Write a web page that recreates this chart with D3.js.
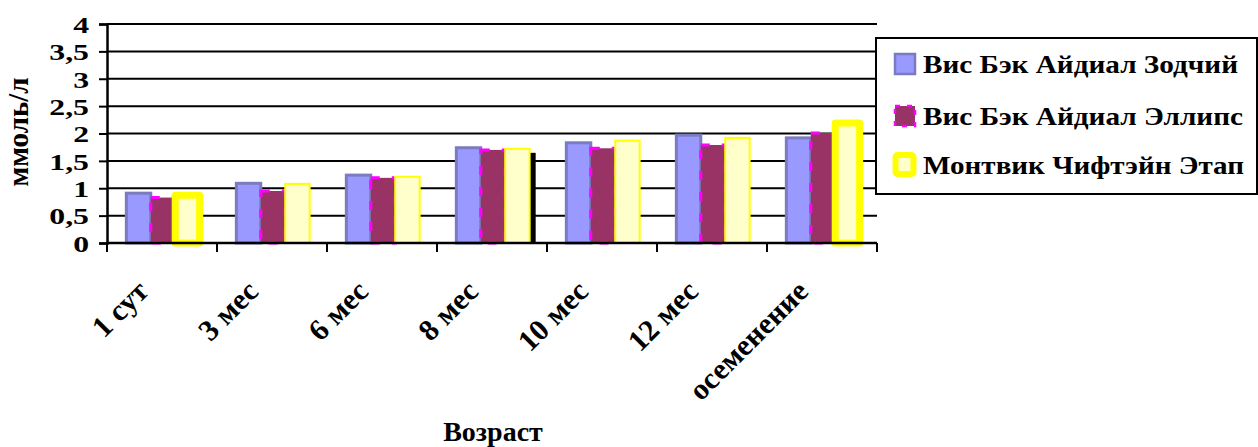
<!DOCTYPE html>
<html>
<head>
<meta charset="utf-8">
<script src="https://cdn.jsdelivr.net/npm/d3@7"></script>
<style>
  html, body { margin: 0; padding: 0; background: #fff; }
  svg { display: block; }
</style>
</head>
<body>
<svg id="chart" width="1258" height="447"></svg>
<script>
// Age points on the x axis
const categories = ["1 сут", "3 мес", "6 мес", "8 мес", "10 мес", "12 мес", "осеменение"];

// Series names
const seriesNames = ["Вис Бэк Айдиал Зодчий", "Вис Бэк Айдиал Эллипс", "Монтвик Чифтэйн Этап"];

// Values per series, ммоль/л
const zodchiy = [0.91, 1.09, 1.24, 1.74, 1.83, 1.97, 1.92];
const ellips  = [0.83, 0.95, 1.19, 1.70, 1.73, 1.79, 2.01];
const etap    = [0.87, 1.08, 1.21, 1.72, 1.87, 1.92, 2.19];

// Y axis ticks
const yTicks = [0, 0.5, 1, 1.5, 2, 2.5, 3, 3.5, 4];
const yTickLabels = ["0", "0,5", "1", "1,5", "2", "2,5", "3", "3,5", "4"];

// Points drawn with a heavy outline, and the one with a drop shadow
const heavyPoints = ["1 сут", "осеменение"];
const shadowPoints = ["8 мес"];

const svg = d3.select("#chart");
const margin = { left: 107, right: 381, top: 24, bottom: 204 };
const W = 1258, H = 447;
const plotW = W - margin.left - margin.right;
const plotH = H - margin.top - margin.bottom;

const x = d3.scaleBand().domain(categories).range([margin.left, margin.left + plotW]).paddingInner(0).paddingOuter(0);
const barW = x.bandwidth() / 4.5;
const xs = d3.scaleBand().domain(d3.range(3)).range([0, barW * 3]);
const y = d3.scaleLinear().domain([0, 4]).range([margin.top + plotH, margin.top]);

function boldText(sel, size) {
  return sel.attr("font-family", "Liberation Serif").attr("font-weight", "bold")
    .attr("font-size", size).attr("fill", "#000");
}

// Grid lines
svg.append("g")
  .selectAll("line")
  .data(yTicks.filter(d => d > 0))
  .join("line")
  .attr("x1", margin.left).attr("x2", margin.left + plotW)
  .attr("y1", d => y(d)).attr("y2", d => y(d))
  .attr("stroke", "#000").attr("stroke-width", 2);

const series = [
  { name: seriesNames[0], values: zodchiy, fill: "#9999FF", stroke: "#7B7BC0", sw: 3, dash: null, width: 315 },
  { name: seriesNames[1], values: ellips,  fill: "#993366", stroke: "#FF00FF", sw: 3, dash: "9,12", width: 320 },
  { name: seriesNames[2], values: etap,    fill: "#FFFFCC", stroke: "#FFFF00", sw: 2, dash: null, width: 321 }
];

const groupOffset = (x.bandwidth() - barW * 3) / 2 + 1;

// Drop shadow behind selected yellow bars
svg.append("g")
  .selectAll("rect")
  .data(categories.map((c, i) => ({ c, v: etap[i] })).filter(d => shadowPoints.includes(d.c)))
  .join("rect")
  .attr("x", d => x(d.c) + groupOffset + xs(2) + 6)
  .attr("y", d => y(d.v) + 4)
  .attr("width", barW)
  .attr("height", d => y(0) - y(d.v) - 4)
  .attr("fill", "#000");

series.forEach((s, si) => {
  const g = svg.append("g");
  g.selectAll("rect")
    .data(categories.map((c, i) => ({ c, v: s.values[i] })))
    .join("rect")
    .attr("x", d => x(d.c) + groupOffset + xs(si))
    .attr("y", d => y(d.v))
    .attr("width", barW)
    .attr("height", d => y(0) - y(d.v))
    .attr("fill", s.fill)
    .attr("stroke", s.stroke)
    .attr("stroke-width", d => (si === 2 && heavyPoints.includes(d.c)) ? 7 : s.sw)
    .attr("stroke-linejoin", d => (si === 2 && heavyPoints.includes(d.c)) ? "round" : "miter")
    .attr("stroke-dasharray", s.dash);
});

// Y axis
const yAxis = d3.axisLeft(y).tickValues(yTicks).tickSize(8)
  .tickFormat((d, i) => yTickLabels[i]);
const gy = svg.append("g").attr("transform", `translate(${margin.left},0)`).call(yAxis);
gy.attr("font-family", null).attr("font-size", null);
gy.select(".domain").attr("stroke", "#000").attr("stroke-width", 2.5);
gy.selectAll(".tick line").attr("stroke", "#000").attr("stroke-width", 2);
gy.selectAll(".tick text")
  .attr("x", 0).attr("dy", "0.36em")
  .attr("transform", "translate(-18,0) scale(1.38,1)")
  .call(boldText, 23);

// X axis with ticks on category boundaries
svg.append("line")
  .attr("x1", margin.left).attr("x2", margin.left + plotW)
  .attr("y1", y(0)).attr("y2", y(0))
  .attr("stroke", "#000").attr("stroke-width", 2.5);
svg.append("g")
  .selectAll("line")
  .data(d3.range(categories.length + 1))
  .join("line")
  .attr("x1", i => margin.left + i * x.step())
  .attr("x2", i => margin.left + i * x.step())
  .attr("y1", y(0)).attr("y2", y(0) + 9)
  .attr("stroke", "#000").attr("stroke-width", 2);

// Category labels, rotated
svg.append("g")
  .selectAll("text")
  .data(categories)
  .join("text")
  .attr("transform", d => `translate(${x(d) + x.bandwidth() / 2 - 12},${y(0) + 50}) rotate(-45)`)
  .attr("text-anchor", "end")
  .call(boldText, 30)
  .text(d => d);

// Axis titles
svg.append("text")
  .attr("transform", `translate(28,132) rotate(-90)`)
  .attr("text-anchor", "middle")
  .call(boldText, 29)
  .text("ммоль/л");

svg.append("text")
  .attr("x", 493).attr("y", 441)
  .attr("text-anchor", "middle")
  .call(boldText, 28)
  .text("Возраст");

// Legend
const lg = svg.append("g");
lg.append("rect")
  .attr("x", 876).attr("y", 38).attr("width", 381).attr("height", 156)
  .attr("fill", "#fff").attr("stroke", "#000").attr("stroke-width", 2);
const rowY = [64, 116, 165];
series.forEach((s, i) => {
  const heavy = i === 2;
  lg.append("rect")
    .attr("x", heavy ? 895.5 : 895).attr("y", rowY[i] - 10)
    .attr("width", heavy ? 18 : 20).attr("height", heavy ? 19 : 20)
    .attr("fill", s.fill)
    .attr("stroke", s.stroke)
    .attr("stroke-width", heavy ? 6 : 2.5)
    .attr("rx", heavy ? 2 : 0)
    .attr("stroke-dasharray", s.dash ? "5,7" : null);
  lg.append("text")
    .attr("x", 923).attr("y", rowY[i] + 9)
    .call(boldText, 26)
    .attr("textLength", s.width)
    .attr("lengthAdjust", "spacingAndGlyphs")
    .text(s.name);
});
</script>
</body>
</html>
